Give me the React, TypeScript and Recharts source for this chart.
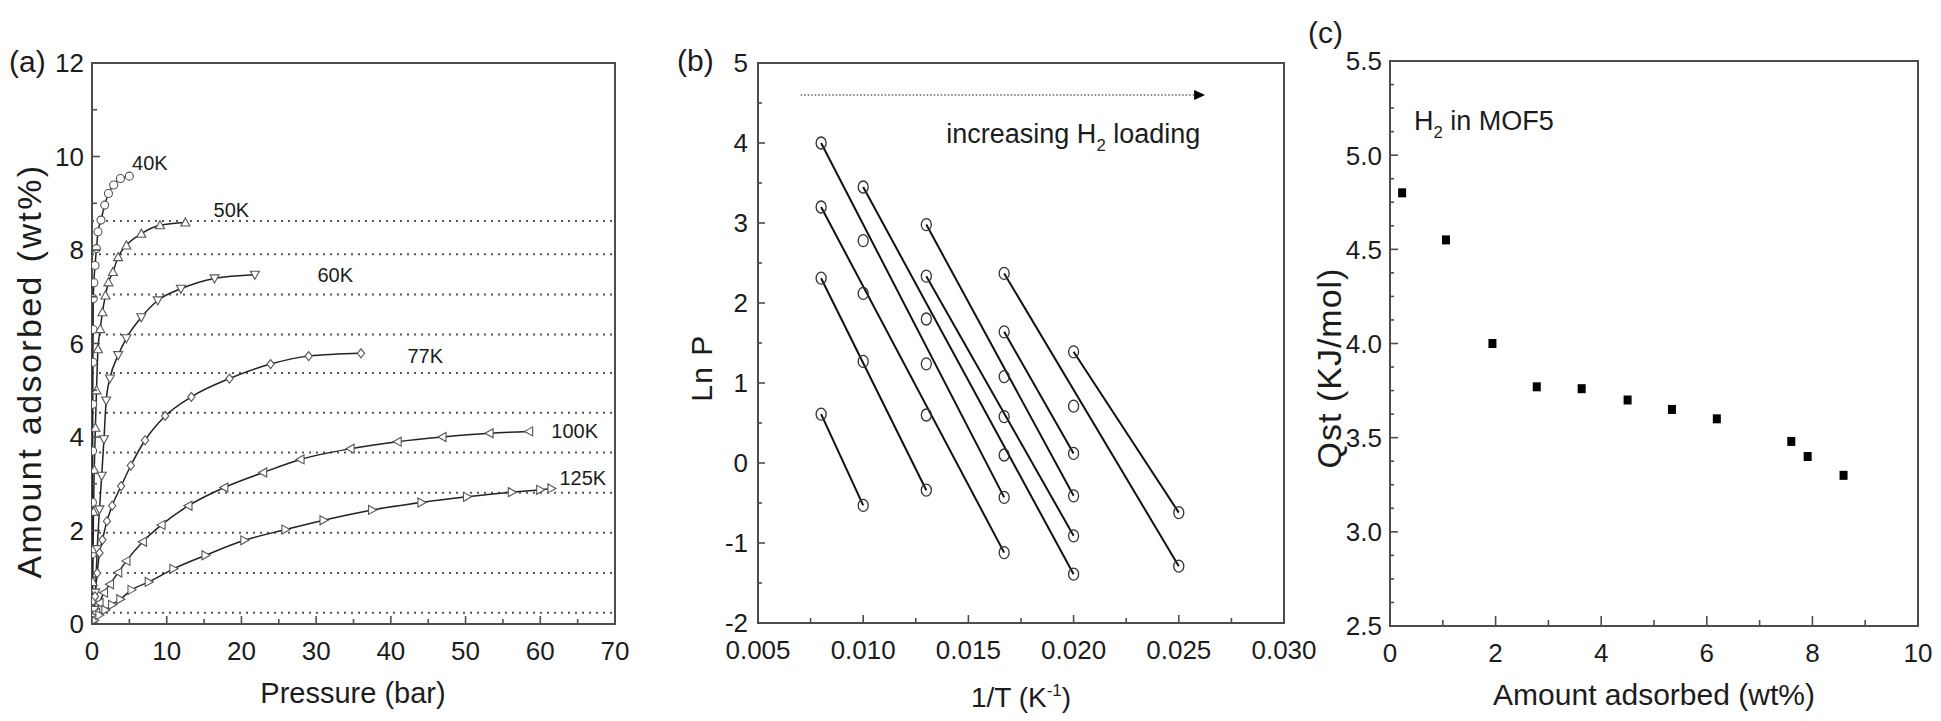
import React from 'react';
import {
  ComposedChart,
  Line,
  Scatter,
  XAxis,
  YAxis,
  ReferenceLine,
  ReferenceArea,
  ReferenceDot,
} from 'recharts';

// ---------------- Panel (a): isotherms (pressure in bar, uptake in wt%) ----------------
const p40K = [0.02, 0.04, 0.06, 0.08, 0.1, 0.12, 0.14, 0.17, 0.25, 0.4, 0.6, 0.8, 1.2, 1.7, 2.2, 2.9, 3.8, 5.0];
const w40K = [0.5, 1.5, 2.6, 3.7, 4.7, 5.6, 6.3, 6.96, 7.3, 7.67, 8.03, 8.39, 8.64, 8.96, 9.21, 9.39, 9.53, 9.58];
const p50K = [0.05, 0.1, 0.15, 0.2, 0.3, 0.45, 0.6, 0.8, 1.1, 1.4, 1.8, 2.2, 2.8, 3.5, 4.6, 6.6, 9.1, 12.5];
const w50K = [0.3, 0.9, 1.6, 2.4, 3.3, 4.2, 5.0, 5.88, 6.31, 6.67, 7.03, 7.31, 7.53, 7.85, 8.1, 8.35, 8.53, 8.59];
const p60K = [0.1, 0.3, 0.45, 0.7, 1.0, 1.3, 1.6, 1.9, 2.4, 3.5, 4.6, 6.6, 8.8, 11.9, 16.4, 21.8];
const w60K = [0.05, 0.3, 0.67, 1.6, 2.45, 3.17, 3.95, 4.78, 5.25, 5.75, 6.11, 6.56, 6.92, 7.17, 7.39, 7.47];
const p77K = [0.2, 0.4, 0.7, 1.0, 1.4, 2.0, 2.7, 3.9, 5.2, 7.1, 9.8, 13.3, 18.4, 23.9, 29.0, 36.0];
const w77K = [0.16, 0.59, 1.09, 1.52, 1.8, 2.2, 2.53, 2.95, 3.39, 3.93, 4.45, 4.86, 5.25, 5.56, 5.73, 5.79];
const p100K = [0.2, 0.55, 1.0, 1.6, 2.4, 3.5, 4.6, 6.8, 9.3, 12.9, 17.7, 22.9, 27.9, 34.6, 40.9, 46.9, 53.2, 58.5];
const w100K = [0.1, 0.24, 0.45, 0.67, 0.85, 1.1, 1.35, 1.76, 2.12, 2.53, 2.92, 3.24, 3.52, 3.75, 3.9, 4.0, 4.08, 4.12];
const p125K = [0.3, 1.0, 1.8, 2.7, 3.8, 5.3, 7.6, 10.9, 15.2, 20.4, 25.9, 31.0, 37.5, 44.1, 50.2, 56.2, 60.0, 61.5];
const w125K = [0.08, 0.19, 0.3, 0.41, 0.53, 0.73, 0.9, 1.18, 1.47, 1.79, 2.02, 2.22, 2.44, 2.6, 2.72, 2.82, 2.87, 2.9];

const isothermNames = ['40K', '50K', '60K', '77K', '100K', '125K'];
const isothermMarkers = ['circle', 'up', 'down', 'diamond', 'left', 'right'];
const isothermLabelX = [7.75, 18.65, 32.55, 44.6, 64.6, 65.7];
const isothermLabelY = [9.87, 8.87, 7.46, 5.74, 4.13, 3.13];
const loadingLevels = [0.24, 1.09, 1.95, 2.81, 3.67, 4.52, 5.37, 6.19, 7.05, 7.91, 8.62];
const pressureTicks = [0, 5, 10, 15, 20, 25, 30, 35, 40, 45, 50, 55, 60, 65, 70];
const uptakeTicks = [0, 1, 2, 3, 4, 5, 6, 7, 8, 9, 10, 11, 12];

// ---------------- Panel (b): ln P vs 1/T at constant loading ----------------
const invT = [0.008, 0.01, 0.013, 0.0167, 0.02, 0.025];
const lnP024 = [0.61, -0.53, null, null, null, null];
const lnP109 = [2.31, 1.27, -0.34, null, null, null];
const lnP195 = [3.2, 2.12, 0.6, -1.12, null, null];
const lnP281 = [4.0, 2.78, 1.24, -0.43, null, null];
const lnP367 = [null, 3.45, 1.8, 0.1, -1.39, null];
const lnP452 = [null, null, 2.335, 0.58, -0.91, null];
const lnP537 = [null, null, 2.98, 1.08, -0.41, null];
const lnP619 = [null, null, null, 1.64, 0.12, null];
const lnP705 = [null, null, null, 2.37, 0.71, -1.29];
const lnP791 = [null, null, null, null, 1.39, -0.62];
const invTTicks = [0.005, 0.0075, 0.01, 0.0125, 0.015, 0.0175, 0.02, 0.0225, 0.025, 0.0275, 0.03];
const lnPTicks = [-2, -1.5, -1, -0.5, 0, 0.5, 1, 1.5, 2, 2.5, 3, 3.5, 4, 4.5, 5];
const arrowStartX = 0.00703;
const arrowEndX = 0.02579;
const arrowTipX = 0.02625;
const arrowLevel = 4.6;
const loadingTextX = 0.01395;
const loadingTextY = 4.0;

// ---------------- Panel (c): isosteric heat ----------------
const qLoading = [0.23, 1.06, 1.94, 2.78, 3.63, 4.5, 5.34, 6.19, 7.6, 7.91, 8.59];
const qstValues = [4.8, 4.55, 4.0, 3.77, 3.76, 3.7, 3.65, 3.6, 3.48, 3.4, 3.3];
const qXTicks = [0, 1, 2, 3, 4, 5, 6, 7, 8, 9, 10];
const qYTicks = [2.5, 2.625, 2.75, 2.875, 3, 3.125, 3.25, 3.375, 3.5, 3.625, 3.75, 3.875, 4, 4.125, 4.25, 4.375, 4.5, 4.625, 4.75, 4.875, 5, 5.125, 5.25, 5.375, 5.5];
const mofTextX = 0.455;
const mofTextY = 5.134;

// ---------------- helpers ----------------
const FONT = '"Liberation Sans", Arial, Helvetica, sans-serif';
const INK = '#1c1c1c';
const FRAME = '#4d4d4d';

const zip = (xs: number[], ys: (number | null)[]) =>
  xs.map((x, i) => ({ x, y: ys[i] })).filter((d) => d.y !== null && d.y !== undefined) as { x: number; y: number }[];

const isotherms = [
  zip(p40K, w40K),
  zip(p50K, w50K),
  zip(p60K, w60K),
  zip(p77K, w77K),
  zip(p100K, w100K),
  zip(p125K, w125K),
];

const lnPSeries = [lnP024, lnP109, lnP195, lnP281, lnP367, lnP452, lnP537, lnP619, lnP705, lnP791].map((s) => zip(invT, s));
const lnPLines = lnPSeries.map((pts) => [pts[0], pts[pts.length - 1]]);
const lnPCircles = lnPSeries.flat();
const qstPoints = zip(qLoading, qstValues);

const isMult = (v: number, step: number, base: number) => {
  const k = (v - base) / step;
  return Math.abs(k - Math.round(k)) < 1e-6;
};

type TickOpts = {
  axis: 'x' | 'y';
  step: number;
  base: number;
  fmt: (v: number) => string;
  majorLen: number;
  minorLen: number;
  gap: number;
  fontSize: number;
};

function makeTick(o: TickOpts) {
  return (props: any) => {
    const { x, y, payload, index } = props;
    const v = payload.value as number;
    const major = isMult(v, o.step, o.base);
    const len = major ? o.majorLen : o.minorLen;
    if (o.axis === 'x') {
      return (
        <g key={`tx-${index}`}>
          <line x1={x} y1={y} x2={x} y2={y - len} stroke={FRAME} strokeWidth={1.6} />
          {major && (
            <text x={x} y={y + o.gap} textAnchor="middle" fontSize={o.fontSize} fontFamily={FONT} fill={INK}>
              {o.fmt(v)}
            </text>
          )}
        </g>
      );
    }
    return (
      <g key={`ty-${index}`}>
        <line x1={x} y1={y} x2={x + len} y2={y} stroke={FRAME} strokeWidth={1.6} />
        {major && (
          <text x={x - o.gap} y={y} dy="0.36em" textAnchor="end" fontSize={o.fontSize} fontFamily={FONT} fill={INK}>
            {o.fmt(v)}
          </text>
        )}
      </g>
    );
  };
}

function IsoMarker({ kind, cx, cy }: { kind: string; cx?: number; cy?: number }) {
  if (cx == null || cy == null || isNaN(cx) || isNaN(cy)) return null;
  const s = 4.5;
  const st = { stroke: '#555', strokeWidth: 1.1, fill: '#fff' };
  switch (kind) {
    case 'circle':
      return <circle cx={cx} cy={cy} r={4} {...st} />;
    case 'up':
      return <polygon points={`${cx},${cy - s} ${cx + s},${cy + s * 0.8} ${cx - s},${cy + s * 0.8}`} {...st} />;
    case 'down':
      return <polygon points={`${cx},${cy + s} ${cx + s},${cy - s * 0.8} ${cx - s},${cy - s * 0.8}`} {...st} />;
    case 'diamond':
      return <polygon points={`${cx},${cy - s} ${cx + s * 0.8},${cy} ${cx},${cy + s} ${cx - s * 0.8},${cy}`} {...st} />;
    case 'left':
      return <polygon points={`${cx - s},${cy} ${cx + s * 0.8},${cy - s} ${cx + s * 0.8},${cy + s}`} {...st} />;
    default:
      return <polygon points={`${cx + s},${cy} ${cx - s * 0.8},${cy - s} ${cx - s * 0.8},${cy + s}`} {...st} />;
  }
}

const OpenCircle = (props: any) => {
  const { cx, cy } = props;
  if (cx == null || cy == null) return <g />;
  return <ellipse cx={cx} cy={cy} rx={5} ry={6} fill="none" stroke="#333" strokeWidth={1.3} />;
};

const FilledSquare = (props: any) => {
  const { cx, cy } = props;
  if (cx == null || cy == null) return <g />;
  return <rect x={cx - 4} y={cy - 4.5} width={8} height={9} fill="#000" />;
};

const ArrowHead = (props: any) => {
  const { cx, cy } = props;
  if (cx == null || cy == null) return <g />;
  return <path d={`M${cx - 11},${cy - 5} L${cx},${cy} L${cx - 11},${cy + 5} Z`} fill="#000" />;
};

const centerText = (txt: string, fontSize: number) => (props: any) => {
  const vb = props.viewBox || {};
  const cx = (vb.x || 0) + (vb.width || 0) / 2;
  const cy = (vb.y || 0) + (vb.height || 0) / 2;
  return (
    <text x={cx} y={cy} dy="0.36em" textAnchor="middle" fontSize={fontSize} fontFamily={FONT} fill={INK}>
      {txt}
    </text>
  );
};

const subText = (pre: string, sub: string, post: string, fontSize: number) => (props: any) => {
  const vb = props.viewBox || {};
  const x = (vb.x || 0) + (vb.width || 0) / 2;
  const y = (vb.y || 0) + (vb.height || 0) / 2;
  return (
    <text x={x} y={y} textAnchor="start" fontSize={fontSize} fontFamily={FONT} fill={INK}>
      {pre}
      <tspan dy={fontSize * 0.3} fontSize={fontSize * 0.62}>
        {sub}
      </tspan>
      <tspan dy={-fontSize * 0.3}>{post}</tspan>
    </text>
  );
};

const axisCommon = {
  type: 'number' as const,
  interval: 0 as const,
  tickSize: 0,
  tickMargin: 0,
  axisLine: false,
  tickLine: false,
  allowDataOverflow: true,
};

export default function App() {
  return (
    <div style={{ position: 'absolute', left: 0, top: 0, width: 1941, height: 721, background: '#fff', overflow: 'hidden' }}>
      {/* Panel (a) */}
      <div style={{ position: 'absolute', left: 0, top: 0 }}>
        <ComposedChart width={650} height={721} margin={{ top: 63, right: 35, bottom: 96, left: 91 }}>
          <XAxis
            {...axisCommon}
            dataKey="x"
            domain={[0, 70]}
            ticks={pressureTicks}
            height={1}
            tick={makeTick({ axis: 'x', step: 10, base: 0, fmt: (v) => String(v), majorLen: 8, minorLen: 5, gap: 36, fontSize: 26 })}
          />
          <YAxis
            {...axisCommon}
            dataKey="y"
            domain={[0, 12]}
            ticks={uptakeTicks}
            width={1}
            tick={makeTick({ axis: 'y', step: 2, base: 0, fmt: (v) => String(v), majorLen: 8, minorLen: 5, gap: 8, fontSize: 26 })}
          />
          {loadingLevels.map((v) => (
            <ReferenceLine key={`lvl-${v}`} y={v} stroke="#555" strokeWidth={2} strokeDasharray="2 5" />
          ))}
          {isotherms.map((data, i) => (
            <Line
              key={isothermNames[i]}
              data={data}
              dataKey="y"
              type="monotone"
              stroke="#222"
              strokeWidth={1.5}
              isAnimationActive={false}
              activeDot={false}
              dot={(p: any) => <IsoMarker key={`${isothermNames[i]}-${p.index}`} kind={isothermMarkers[i]} cx={p.cx} cy={p.cy} />}
            />
          ))}
          {isothermNames.map((n, i) => (
            <ReferenceDot
              key={`lab-${n}`}
              x={isothermLabelX[i]}
              y={isothermLabelY[i]}
              r={0}
              fill="none"
              stroke="none"
              label={centerText(n, 20)}
            />
          ))}
          <ReferenceArea x1={0} x2={70} y1={0} y2={12} fill="none" stroke={FRAME} strokeWidth={2} ifOverflow="visible" />
        </ComposedChart>
      </div>

      {/* Panel (b) */}
      <div style={{ position: 'absolute', left: 650, top: 0 }}>
        <ComposedChart width={700} height={721} margin={{ top: 63, right: 66, bottom: 97, left: 107 }}>
          <XAxis
            {...axisCommon}
            dataKey="x"
            domain={[0.005, 0.03]}
            ticks={invTTicks}
            height={1}
            tick={makeTick({ axis: 'x', step: 0.005, base: 0, fmt: (v) => v.toFixed(3), majorLen: 8, minorLen: 5, gap: 36, fontSize: 26 })}
          />
          <YAxis
            {...axisCommon}
            dataKey="y"
            domain={[-2, 5]}
            ticks={lnPTicks}
            width={1}
            tick={makeTick({ axis: 'y', step: 1, base: 0, fmt: (v) => String(v), majorLen: 7, minorLen: 4, gap: 10, fontSize: 26 })}
          />
          <ReferenceLine
            segment={[
              { x: arrowStartX, y: arrowLevel },
              { x: arrowEndX, y: arrowLevel },
            ]}
            stroke="#8a8a8a"
            strokeWidth={2}
            strokeDasharray="1.5 2"
          />
          <ReferenceDot x={arrowTipX} y={arrowLevel} r={5} shape={ArrowHead} />
          <ReferenceDot
            x={loadingTextX}
            y={loadingTextY}
            r={0}
            fill="none"
            stroke="none"
            label={subText('increasing H', '2', ' loading', 27)}
          />
          {lnPLines.map((data, i) => (
            <Line
              key={`fit-${i}`}
              data={data}
              dataKey="y"
              type="linear"
              stroke="#111"
              strokeWidth={2}
              dot={false}
              activeDot={false}
              isAnimationActive={false}
            />
          ))}
          <Scatter data={lnPCircles} dataKey="y" shape={OpenCircle} isAnimationActive={false} />
          <ReferenceArea x1={0.005} x2={0.03} y1={-2} y2={5} fill="none" stroke={FRAME} strokeWidth={2} ifOverflow="visible" />
        </ComposedChart>
      </div>

      {/* Panel (c) */}
      <div style={{ position: 'absolute', left: 1300, top: 0 }}>
        <ComposedChart width={641} height={721} margin={{ top: 61, right: 23, bottom: 94, left: 89 }}>
          <XAxis
            {...axisCommon}
            dataKey="x"
            domain={[0, 10]}
            ticks={qXTicks}
            height={1}
            tick={makeTick({ axis: 'x', step: 2, base: 0, fmt: (v) => String(v), majorLen: 10, minorLen: 6, gap: 36, fontSize: 26 })}
          />
          <YAxis
            {...axisCommon}
            dataKey="y"
            domain={[2.5, 5.5]}
            ticks={qYTicks}
            width={1}
            tick={makeTick({ axis: 'y', step: 0.5, base: 0, fmt: (v) => v.toFixed(1), majorLen: 8, minorLen: 4, gap: 8, fontSize: 26 })}
          />
          <ReferenceDot
            x={mofTextX}
            y={mofTextY}
            r={0}
            fill="none"
            stroke="none"
            label={subText('H', '2', ' in MOF5', 27)}
          />
          <Scatter data={qstPoints} dataKey="y" shape={FilledSquare} isAnimationActive={false} />
          <ReferenceArea x1={0} x2={10} y1={2.5} y2={5.5} fill="none" stroke={FRAME} strokeWidth={2} ifOverflow="visible" />
        </ComposedChart>
      </div>

      {/* Titles and panel letters */}
      <svg width={1941} height={721} style={{ position: 'absolute', left: 0, top: 0, pointerEvents: 'none' }}>
        <g fontFamily={FONT} fill={INK}>
          <text x={9} y={72} fontSize={30}>(a)</text>
          <text x={677} y={71} fontSize={30}>(b)</text>
          <text x={1308} y={43} fontSize={30}>(c)</text>

          <text x={-371} y={41} transform="rotate(-90)" textAnchor="middle" fontSize={34} letterSpacing={2.4}>
            Amount adsorbed (wt%)
          </text>
          <text x={353} y={703} textAnchor="middle" fontSize={29}>Pressure (bar)</text>

          <text x={-368} y={712} transform="rotate(-90)" textAnchor="middle" fontSize={30} letterSpacing={1.5}>
            Ln P
          </text>
          <text x={1021} y={707} textAnchor="middle" fontSize={28}>
            1/T (K
            <tspan dy={-11} fontSize={17}>-1</tspan>
            <tspan dy={11}>)</tspan>
          </text>

          <text x={-368} y={1341} transform="rotate(-90)" textAnchor="middle" fontSize={34} letterSpacing={1}>
            Qst (KJ/mol)
          </text>
          <text x={1654} y={705} textAnchor="middle" fontSize={30}>Amount adsorbed (wt%)</text>
        </g>
      </svg>
    </div>
  );
}
